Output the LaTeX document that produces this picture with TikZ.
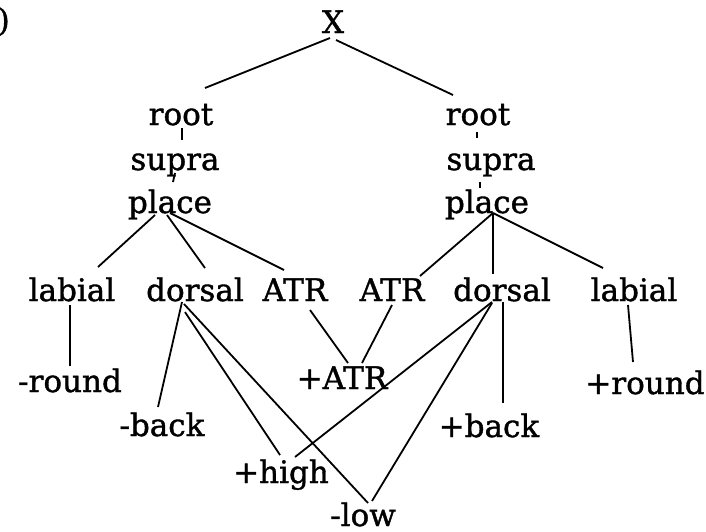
\documentclass[tikz,border=0pt]{standalone}
\usepackage{fontspec}
\setmainfont{DejaVu Serif}
\newfontfamily\treefont{DejaVu Serif}[FakeBold=1.2]
\usepackage{tikz}
\usetikzlibrary{calc}

\newcommand{\featfont}{\treefont\fontsize{31}{37}\selectfont}

\begin{document}
\begin{tikzpicture}[x=1pt,y=-1pt]
        \tikzset{
            feat/.style={anchor=base, inner sep=0pt, font=\featfont},
            assoc/.style={line width=1.8pt}
        }
        \useasboundingbox (0,0) rectangle (706,531);
        % example number (cut off)
        \node[feat, anchor=base east] (num) at (10,31) {)};
        % top of the tree
        \node[feat] (X) at (333,33) {X};
        \node[feat] (rootL) at (181,125) {root};
        \node[feat] (rootR) at (478,125) {root};
        \node[feat] (supraL) at (175,170) {supra};
        \node[feat] (supraR) at (491,170) {supra};
        \node[feat] (placeL) at (170,213) {place};
        \node[feat] (placeR) at (487,213) {place};
        % articulators
        \node[feat] (labL) at (72,301) {labial};
        \node[feat] (dorsL) at (195,301) {dorsal};
        \node[feat] (atrL) at (295,301) {ATR};
        \node[feat] (atrR) at (392,301) {ATR};
        \node[feat] (dorsR) at (502,301) {dorsal};
        \node[feat] (labR) at (634,301) {labial};
        % features
        \node[feat] (roundM) at (70,392) {-round};
        \node[feat] (backM) at (162,436) {-back};
        \node[feat] (highP) at (281,483) {+high};
        \node[feat] (lowM) at (363,526) {-low};
        \node[feat] (atrP) at (342,389) {+ATR};
        \node[feat] (backP) at (489,437) {+back};
        \node[feat] (roundP) at (645,394) {+round};

        \draw[assoc] ($(X.base)+(-3,5)$) -- ($(rootL.base)+(24,-37)$);
        \draw[assoc] ($(X.base)+(3,7)$) -- ($(rootR.base)+(-25,-30)$);
        \draw[assoc] ($(rootL.base)+(1,3)$) -- ($(supraL.base)+(7,-30)$);
        \draw[assoc] ($(supraL.base)+(0,3)$) -- ($(placeL.base)+(3,-31)$);
        \draw[assoc] ($(rootR.base)+(-1,7)$) -- ($(supraR.base)+(-14,-32)$);
        \draw[assoc] ($(supraR.base)+(-11,12)$) -- ($(placeR.base)+(-7,-25)$);
        % left place
        \draw[assoc] ($(placeL.base)+(-15,2)$) -- ($(labL.base)+(26,-34)$);
        \draw[assoc] ($(placeL.base)+(-3,2)$) -- ($(dorsL.base)+(10,-33)$);
        \draw[assoc] ($(placeL.base)+(0,0)$) -- ($(atrL.base)+(-11,-31)$);
        % right place
        \draw[assoc] ($(placeR.base)+(6,0)$) -- ($(atrR.base)+(28,-25)$);
        \draw[assoc] ($(placeR.base)+(6,0)$) -- ($(dorsR.base)+(-9,-27)$);
        \draw[assoc] ($(placeR.base)+(6,0)$) -- ($(labR.base)+(-31,-33)$);
        % features
        \draw[assoc] ($(labL.base)+(-2,4)$) -- ($(roundM.base)+(0,-26)$);
        \draw[assoc] ($(dorsL.base)+(-13,1)$) -- ($(backM.base)+(-4,-29)$);
        \draw[assoc] ($(dorsL.base)+(-10,11)$) -- ($(highP.base)+(-1,-28)$);
        \draw[assoc] ($(dorsL.base)+(-11,3)$) -- ($(lowM.base)+(5,-23)$);
        \draw[assoc] ($(atrL.base)+(15,9)$) -- ($(atrP.base)+(6,-26)$);
        \draw[assoc] ($(atrR.base)+(0,4)$) -- ($(atrP.base)+(20,-26)$);
        \draw[assoc] ($(dorsR.base)+(-10,1)$) -- ($(highP.base)+(14,-26)$);
        \draw[assoc] ($(dorsR.base)+(-10,2)$) -- ($(lowM.base)+(9,-25)$);
        \draw[assoc] ($(dorsR.base)+(1,1)$) -- ($(backP.base)+(14,-34)$);
        \draw[assoc] ($(labR.base)+(-6,4)$) -- ($(roundP.base)+(-12,-32)$);
    \end{tikzpicture}
\end{document}
